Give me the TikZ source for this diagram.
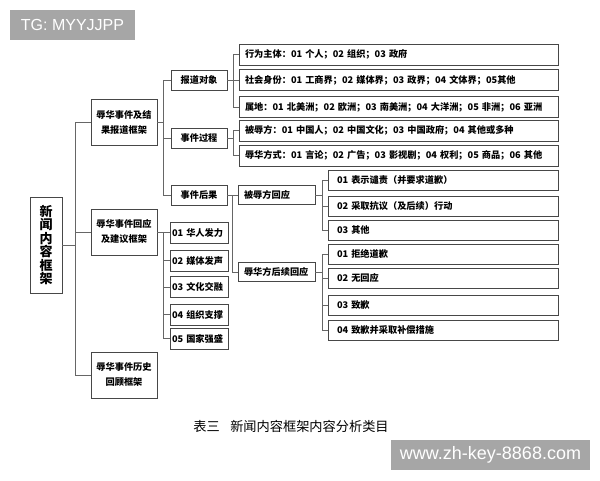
\documentclass[tikz,border=0pt]{standalone}
\usepackage{fontspec}
\newfontfamily\cjk{Noto Sans CJK SC}
\newfontfamily\wmfont{Liberation Sans}
\usetikzlibrary{positioning}

\begin{document}
\begin{tikzpicture}[
x=1pt,
y=-1pt,
box/.style={
  draw=black!72,
  line width=0.8pt,
  fill=white,
  inner sep=0pt,
  font=\cjk\bfseries\fontsize{9.2}{15}\selectfont
  },
rootbox/.style={
  box,
  minimum width=32pt,
  minimum height=96pt,
  align=center,
  font=\cjk\bfseries\fontsize{13}{13.5}\selectfont
  },
framebox/.style={box, minimum width=66pt, minimum height=46pt, align=center},
catbox/.style={box, minimum width=56pt, minimum height=20pt},
itembox/.style={box, text width=54pt, inner xsep=2pt, minimum height=21pt, align=left},
longbox/.style={box, text width=307pt, inner xsep=6pt, minimum height=21pt, align=left},
replybox/.style={box, text width=65pt, inner xsep=6pt, minimum height=19pt, align=left},
optbox/.style={box, text width=212pt, inner xsep=9pt, minimum height=20pt, align=left},
link/.style={draw=black!60, line width=0.8pt},
wmark/.style={fill=black!35, text=white, inner sep=0pt}
]
\useasboundingbox (0,0) rectangle (600,480);

% watermark
\node[wmark, minimum width=125pt, minimum height=30pt,
  font=\wmfont\fontsize{16}{16}\selectfont] (tg) at (72.5,25) {TG: MYYJJPP};

% root and frames
\node[rootbox] (root) at (46,245) {新\\闻\\内\\容\\框\\架};
\node[framebox] (fr1) at (124,122.5) {辱华事件及结\\果报道框架};
\node[framebox] (fr2) at (124,232) {辱华事件回应\\及建议框架};
\node[framebox] (fr3) at (124,375) {辱华事件历史\\回顾框架};

% categories
\node[catbox] (obj) at (199,80.5) {报道对象};
\node[catbox] (proc) at (199,138) {事件过程};
\node[catbox] (res) at (199,195) {事件后果};

\node[itembox] (s1) at (199,232.5) {01\ 华人发力};
\node[itembox] (s2) at (199,260.5) {02\ 媒体发声};
\node[itembox] (s3) at (199,287) {03\ 文化交融};
\node[itembox] (s4) at (199,314.5) {04\ 组织支撑};
\node[itembox] (s5) at (199,338.5) {05\ 国家强盛};

% long rows
\node[longbox] (a1) at (398.5,54.5) {行为主体：01\ 个人；02\ 组织；03\ 政府};
\node[longbox] (a2) at (398.5,80) {社会身份：01\ 工商界；02\ 媒体界；03\ 政界；04\ 文体界；05其他};
\node[longbox] (a3) at (398.5,107) {属地：01\ 北美洲；02\ 欧洲；03\ 南美洲；04\ 大洋洲；05\ 非洲；06\ 亚洲};
\node[longbox] (a4) at (398.5,130.5) {被辱方：01\ 中国人；02\ 中国文化；03\ 中国政府；04\ 其他或多种};
\node[longbox] (a5) at (398.5,155.5) {辱华方式：01\ 言论；02\ 广告；03\ 影视剧；04\ 权利；05\ 商品；06\ 其他};

% replies
\node[replybox] (r1) at (276.5,195) {被辱方回应};
\node[replybox] (r2) at (276.5,272) {辱华方后续回应};

\node[optbox] (c1) at (443,180) {01\ 表示谴责（并要求道歉）};
\node[optbox] (c2) at (443,206) {02\ 采取抗议（及后续）行动};
\node[optbox] (c3) at (443,230) {03\ 其他};
\node[optbox] (c4) at (443,254) {01\ 拒绝道歉};
\node[optbox] (c5) at (443,278) {02\ 无回应};
\node[optbox] (c6) at (443,305) {03\ 致歉};
\node[optbox] (c7) at (443,330) {04\ 致歉并采取补偿措施};

% connectors
\draw[link] (root.east) -- ++(13,0) coordinate (root-t);
\foreach \k in {fr1,fr2,fr3}
  \draw[link] (root-t) |- (\k.west);

\draw[link] (fr1.east) -- ++(6,0) coordinate (fr1-t);
\foreach \k in {obj,proc,res}
  \draw[link] (fr1-t) |- (\k.west);

\draw[link] (fr2.east) -- ++(6,0) coordinate (fr2-t);
\foreach \k in {s1,s2,s3,s4,s5}
  \draw[link] (fr2-t) |- (\k.west);

\draw[link] (obj.east) -- ++(6,0) coordinate (obj-t);
\foreach \k in {a1,a2,a3}
  \draw[link] (obj-t) |- (\k.west);

\draw[link] (proc.east) -- ++(6,0) coordinate (proc-t);
\foreach \k in {a4,a5}
  \draw[link] (proc-t) |- (\k.west);

\draw[link] (res.east) -- ++(5,0) coordinate (res-t);
\foreach \k in {r1,r2}
  \draw[link] (res-t) |- (\k.west);

\draw[link] (r1.east) -- ++(7,0) coordinate (r1-t);
\foreach \k in {c1,c2,c3}
  \draw[link] (r1-t) |- (\k.west);

\draw[link] (r2.east) -- ++(7,0) coordinate (r2-t);
\foreach \k in {c4,c5,c6,c7}
  \draw[link] (r2-t) |- (\k.west);

% caption
\node[font=\cjk\fontsize{13.2}{14}\selectfont, text=black] (cap) at (291,426)
  {表三\hspace{0.8em}新闻内容框架内容分析类目};

\node[wmark, minimum width=199pt, minimum height=30pt,
  font=\wmfont\fontsize{18}{18}\selectfont] (url) at (490.5,455) {www.zh-key-8868.com};

\end{tikzpicture}
\end{document}
